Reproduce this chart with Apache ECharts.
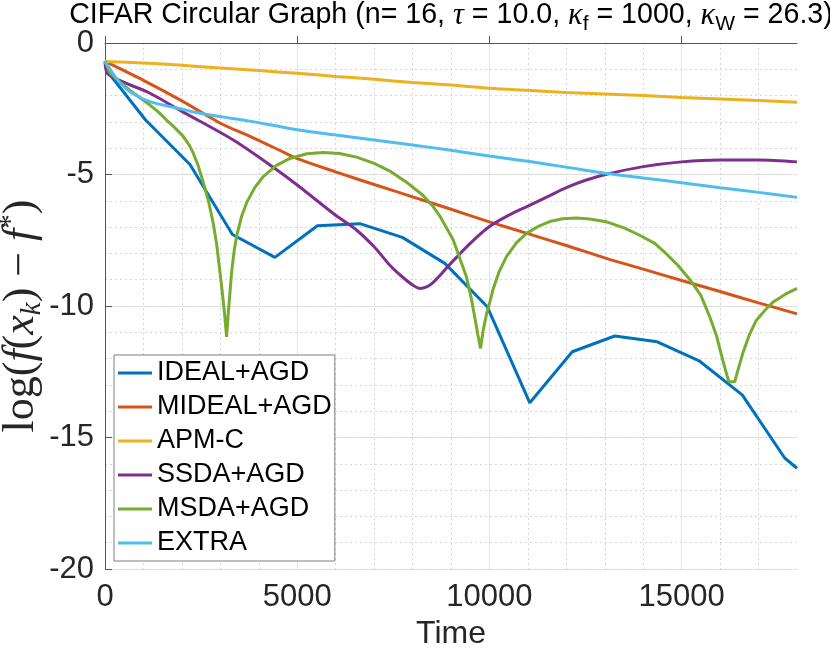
<!DOCTYPE html>
<html><head><meta charset="utf-8">
<script src="https://cdn.jsdelivr.net/npm/echarts@6/dist/echarts.min.js"></script>
<style>html,body{margin:0;padding:0;background:#fff}#c{width:830px;height:656px}</style>
</head><body><div id="c"></div>
<script>
// ---- data ----
const seriesNames = ['IDEAL+AGD','MIDEAL+AGD','APM-C','SSDA+AGD','MSDA+AGD','EXTRA'];
const xTickValues = [0,5000,10000,15000];
const yTickValues = [-20,-15,-10,-5,0];

const idealX = [0,100,1050,2210,3315,4420,5525,6630,7735,8840,9945,11050,12155,13260,14365,15470,16575,17680,18000];
const idealY = [-0.7,-1.15,-2.92,-4.62,-7.28,-8.15,-6.95,-6.87,-7.39,-8.38,-10.03,-13.68,-11.74,-11.14,-11.36,-12.1,-13.38,-15.78,-16.17];

const midealX = [0,1000,2000,3000,3770,4500,5000,6000,7000,8000,9000,10000,11000,12000,13000,14000,15000,16000,17000,18000];
const midealY = [-0.7,-1.42,-2.2,-3.05,-3.55,-4.05,-4.4,-4.9,-5.38,-5.85,-6.32,-6.8,-7.25,-7.7,-8.17,-8.6,-9.03,-9.45,-9.88,-10.3];

const apmX = [0,1000,2000,3000,4000,5000,6000,7000,8000,9000,10000,11000,12000,13000,14000,15000,16000,17000,18000];
const apmY = [-0.7,-0.76,-0.85,-0.95,-1.05,-1.15,-1.27,-1.38,-1.5,-1.6,-1.72,-1.8,-1.88,-1.94,-2.0,-2.07,-2.13,-2.19,-2.25];

const ssdaX = [0,90,1170,2000,3337,4420,5000,6000,6540,7000,7410,7700,8000,8200,8500,9000,9500,10000,10500,11000,11570,12000,12500,13045,14000,15000,16000,17000,18000];
const ssdaY = [-0.7,-1.2,-1.91,-2.6,-3.69,-4.77,-5.4,-6.55,-7.11,-7.75,-8.45,-8.85,-9.2,-9.33,-9.15,-8.37,-7.62,-6.98,-6.55,-6.2,-5.8,-5.5,-5.22,-4.99,-4.7,-4.52,-4.45,-4.45,-4.52];

const msdaX = [0,130,400,650,900,1170,1400,1600,1800,2036,2200,2296,2420,2556,2690,2816,2900,2990,3060,3110,3163,3200,3250,3294,3360,3424,3550,3684,3900,4116,4450,4810,5250,5676,6100,6543,7000,7410,7850,8276,8536,8710,9056,9403,9533,9620,9700,9768,9840,9925,10010,10097,10250,10443,10700,10963,11300,11570,11900,12260,12600,13045,13500,13910,14300,14603,14900,15210,15500,15730,15900,16076,16180,16230,16380,16480,16590,16760,16940,17204,17370,17700,18000];
const msdaY = [-0.7,-1.15,-1.5,-1.8,-2.07,-2.36,-2.64,-2.93,-3.2,-3.55,-3.9,-4.19,-4.65,-5.3,-6.0,-6.86,-7.6,-8.7,-9.6,-10.3,-11.17,-10.4,-9.5,-8.7,-7.9,-7.34,-6.61,-6.07,-5.49,-5.08,-4.66,-4.39,-4.21,-4.16,-4.2,-4.34,-4.58,-4.87,-5.3,-5.8,-6.22,-6.58,-7.48,-8.9,-9.75,-10.45,-11.1,-11.61,-10.9,-10.3,-9.85,-9.35,-8.7,-8.12,-7.6,-7.24,-6.95,-6.79,-6.68,-6.65,-6.69,-6.8,-7.03,-7.31,-7.62,-8.02,-8.45,-8.99,-9.6,-10.41,-11.1,-12.1,-12.65,-12.88,-12.88,-12.35,-11.8,-11.1,-10.55,-10.1,-9.86,-9.55,-9.33];

const extraX = [0,200,400,700,1170,1800,2470,3000,3770,5000,6000,7000,8000,9000,10000,11000,12000,13000,14000,15000,16000,17000,18000];
const extraY = [-0.7,-1.15,-1.53,-1.9,-2.23,-2.45,-2.67,-2.8,-2.97,-3.3,-3.5,-3.69,-3.88,-4.08,-4.3,-4.5,-4.72,-4.95,-5.13,-5.31,-5.5,-5.68,-5.87];

const colors = ['#0072BD','#D95319','#EDB120','#7E2F8E','#77AC30','#4DBEEE'];
const xsAll = [idealX, midealX, apmX, ssdaX, msdaX, extraX];
const ysAll = [idealY, midealY, apmY, ssdaY, msdaY, extraY];
const smoothAll = [false, 0.3, 0.3, 0.3, false, 0.3];

const minorX = [];
for (let v = 1000; v < 18000; v += 1000) if (v % 5000 !== 0) minorX.push(v);

const SANS = 'Liberation Sans, Arial, Helvetica, sans-serif';
const SERIF = 'Liberation Serif, Times New Roman, serif';
const TXT = '#262626';

const chart = echarts.init(document.getElementById('c'), null, {renderer: 'canvas'});
chart.setOption({
  animation: false,
  backgroundColor: '#fff',
  color: colors,
  title: {
    text: 'CIFAR Circular Graph (n= 16, {g|τ} = 10.0, {g|κ}{sub|f} = 1000, {g|κ}{sub|W} = 26.3)',
    left: 451, top: 0, textAlign: 'center', padding: 0,
    textStyle: {
      fontFamily: SANS, fontSize: 28.6, fontWeight: 'normal', color: '#000', lineHeight: 31,
      rich: {
        g: {fontFamily: SERIF, fontStyle: 'italic', fontSize: 30.5, color: '#000'},
        sub: {fontFamily: SANS, fontSize: 21, color: '#000', padding: [18, 0, 0, 0]}
      }
    }
  },
  graphic: [{
    type: 'text', x: 21, y: 316, rotation: Math.PI / 2, z: 10,
    style: {
      text: 'log({i|f}({i|x}{sub|k}) − {i|f}{sup|*})',
      fontFamily: SERIF, fontSize: 44, fill: TXT,
      align: 'center', verticalAlign: 'middle',
      rich: {
        i: {fontFamily: SERIF, fontStyle: 'italic', fontSize: 44, fill: TXT},
        sub: {fontFamily: SERIF, fontStyle: 'italic', fontSize: 29, fill: TXT, padding: [22, 0, 0, 0]},
        sup: {fontFamily: SERIF, fontSize: 29, fill: TXT, padding: [0, 0, 20, 0]}
      }
    }
  }],
  legend: {
    orient: 'vertical', left: 114, top: 355,
    backgroundColor: '#fff', borderColor: '#7f7f7f', borderWidth: 1,
    padding: [3, 3, 3, 4], itemGap: 4, itemWidth: 34, itemHeight: 3,
    icon: 'rect',
    textStyle: {fontFamily: SANS, fontSize: 27, color: '#000', lineHeight: 30},
    data: seriesNames
  },
  grid: {left: 105, right: 33, top: 43, bottom: 87, containLabel: false, outerBoundsMode: 'none'},
  xAxis: [{
    type: 'value', min: 0, max: 18000, interval: 5000,
    name: 'Time', nameLocation: 'middle', nameGap: 48,
    nameTextStyle: {fontFamily: SANS, fontSize: 32, color: TXT},
    axisLine: {show: true, lineStyle: {color: '#555', width: 1}},
    axisTick: {show: true, inside: true, length: 7, lineStyle: {color: '#555'}, customValues: xTickValues},
    axisLabel: {fontFamily: SANS, fontSize: 31, color: TXT, margin: 13, customValues: xTickValues,
      formatter: v => String(v)},
    splitLine: {show: true, lineStyle: {color: '#e3e3e3', width: 1}}
  }, {
    type: 'value', min: 0, max: 18000, position: 'bottom',
    axisLine: {show: false}, axisLabel: {show: false},
    axisTick: {show: false, customValues: minorX},
    splitLine: {show: true, lineStyle: {color: '#d6d6d6', width: 1, type: [2, 3]}}
  }],
  yAxis: [{
    type: 'value', min: -20, max: 0, interval: 5,
    axisLine: {show: true, lineStyle: {color: '#555', width: 1}},
    axisTick: {show: true, inside: true, length: 7, lineStyle: {color: '#555'}, customValues: yTickValues},
    axisLabel: {fontFamily: SANS, fontSize: 31, color: TXT, margin: 11, customValues: yTickValues,
      formatter: v => String(v)},
    splitLine: {show: true, lineStyle: {color: '#e3e3e3', width: 1}}
  }, {
    type: 'value', min: -20, max: 0, interval: 1, position: 'left',
    axisLine: {show: false}, axisLabel: {show: false}, axisTick: {show: false},
    splitLine: {show: true, lineStyle: {color: '#d6d6d6', width: 1, type: [2, 3]}}
  }],
  series: seriesNames.map((name, i) => ({
    name: name, type: 'line', xAxisIndex: 0, yAxisIndex: 0,
    data: xsAll[i].map((x, j) => [x, ysAll[i][j]]),
    showSymbol: false, symbol: 'none', smooth: smoothAll[i],
    lineStyle: {width: 3, color: colors[i]},
    itemStyle: {color: colors[i]},
    z: 3 + i
  }))
});
</script></body></html>
